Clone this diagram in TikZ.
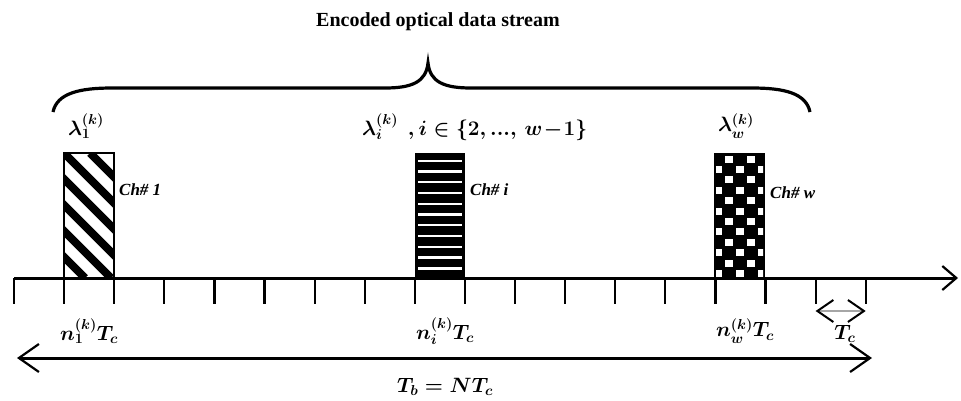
\documentclass[tikz,border=0pt]{standalone}
\usepackage{fontspec}
\setmainfont{Liberation Serif}
\usetikzlibrary{arrows.meta}

\tikzset{
  ticmark/.style={line width=2.2pt},
  lbl/.style={inner sep=0pt,font=\fontsize{19.5}{23}\selectfont\boldmath},
  chlbl/.style={inner sep=0pt,anchor=west,font=\fontsize{17}{20}\selectfont\bfseries\itshape}
}

\begin{document}
\begin{tikzpicture}[x=1pt,y=-1pt]
\useasboundingbox (0,0) rectangle (961,400);

% title and brace
\node[inner sep=0pt,font=\fontsize{20}{24}\selectfont\bfseries] (title) at (438,22) {Encoded optical data stream};
\draw[line width=3.2pt] (53,112) .. controls (57,93) and (80,88) .. (112,88) -- (385,88)
  .. controls (412,88) and (426,82) .. (428,63) .. controls (430,82) and (444,88) .. (471,88)
  -- (752,88) .. controls (784,88) and (806,93) .. (810,112);

% time axis with chip slots
\foreach \k in {0,...,17} \coordinate (t\k) at (14+50.1*\k,278);
\foreach \k in {0,...,17} \draw[ticmark] (t\k) -- ++(0,26);
\coordinate (axend) at (958,278);
\draw[line width=3pt,-{Straight Barb[length=14pt,width=24pt,line width=2.2pt]}] (t0) -- (axend);

% Ch#1 : diagonal hatching
\begin{scope}
\clip (64,153) rectangle (114,278);
\foreach \s in {-130,-104,...,60} \draw[line width=8pt] (64+\s,153) -- ++(125,125);
\end{scope}
\draw[line width=2.2pt] (64,153) rectangle (114,278);

% Ch#i : horizontal stripes
\fill (415,153) rectangle (465,278);
\foreach \j in {0,...,10} \draw[white,line width=2.4pt] (418,160.7+10.76*\j) -- (462,160.7+10.76*\j);

% Ch#w : checkerboard
\fill (714,153) rectangle (765,278);
\begin{scope}
\clip (716,155) rectangle (763,276);
\foreach \r in {0,...,11} {
  \pgfmathtruncatemacro\cs{mod(\r+1,2)}
  \foreach \c in {0,2,4} \fill[white] (714+11*\c+11*\cs,155.5+10.4*\r) rectangle ++(7.5,7);
}
\end{scope}

% wavelength labels
\node[lbl] (lam1) at (86,126) {$\lambda_1^{(k)}$};
\node[lbl,anchor=west] (lami) at (362,127) {$\lambda_i^{(k)}\ \ ,i\in\{2,...,\,w\!-\!1\}$};
\node[lbl] (lamw) at (736,126) {$\lambda_w^{(k)}$};

\node[chlbl] (ch1) at (119,190) {Ch\# 1};
\node[chlbl] (chi) at (470,190) {Ch\# \textit{i}};
\node[chlbl] (chw) at (770,193) {Ch\# w};

% chip positions
\node[lbl] (n1) at (89,331) {$n_1^{(k)}T_c$};
\node[lbl] (ni) at (445,331) {$n_i^{(k)}T_c$};
\node[lbl] (nw) at (745,331) {$n_w^{(k)}T_c$};

% chip duration
\coordinate (tcl) at (815.6,311);
\coordinate (tcr) at (865.7,311);
\draw[black!35,line width=2.6pt,{Straight Barb[color=black,length=16pt,width=22pt,line width=2pt]}-{Straight Barb[color=black,length=16pt,width=22pt,line width=2pt]}] (tcl) -- (tcr);
\node[lbl] (tc) at (845,334) {$T_c$};

% bit duration
\coordinate (tbl) at (17,358);
\coordinate (tbr) at (872,358);
\draw[line width=3pt,{Straight Barb[length=20pt,width=28pt,line width=2.2pt]}-{Straight Barb[length=20pt,width=28pt,line width=2.2pt]}] (tbl) -- (tbr);
\node[lbl] (tb) at (445,387) {$T_b=NT_c$};
\end{tikzpicture}
\end{document}
